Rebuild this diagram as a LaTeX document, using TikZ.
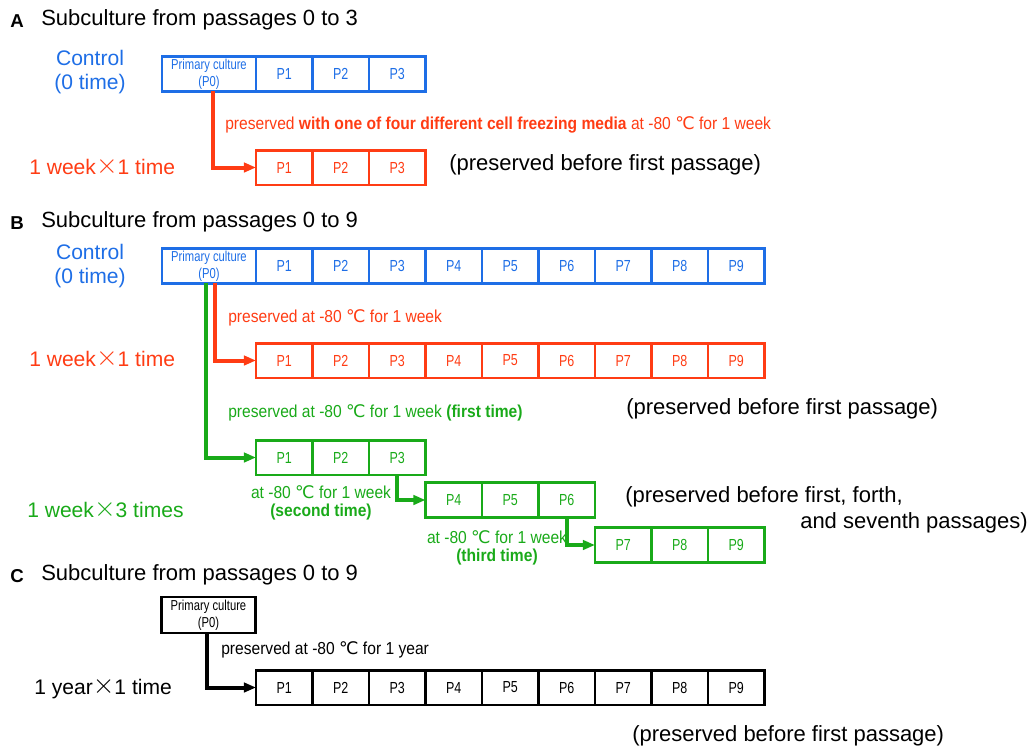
\documentclass[tikz,border=0pt]{standalone}
\usepackage{fontspec}
\setmainfont{Liberation Sans}
\newfontfamily\nfont{Liberation Sans}[FakeStretch=0.9]
\newfontfamily\cfont{Liberation Sans}[FakeStretch=0.78]
\newfontfamily\symfont{DejaVu Sans}
\usepackage{tikz}
\usetikzlibrary{arrows.meta, positioning, calc}

\definecolor{cblue}{RGB}{30,110,230}
\definecolor{cred}{RGB}{255,60,20}
\definecolor{cgreen}{RGB}{25,170,25}
\newcommand{\degC}{{\symfont ℃}}
\newcommand{\tms}{\raisebox{0.5pt}{\scalebox{1.45}{$\times$}}}

\begin{document}
\begin{tikzpicture}[
    x=0.75pt, y=-0.75pt,
    cell/.style={draw, line width=2.2pt, minimum width=42.4pt, minimum height=26.2pt,
                 inner sep=0pt, outer sep=0pt, font=\cfont\fontsize{12}{12}\selectfont},
    pcell/.style={cell, minimum width=70.5pt, align=center,
                  font=\cfont\fontsize{10.8}{12.5}\selectfont},
    panel/.style={inner sep=0pt, font=\fontsize{14}{14}\selectfont\bfseries},
    big/.style={anchor=west, inner sep=0pt, font=\fontsize{16.5}{18}\selectfont},
    side/.style={inner sep=0pt, align=center, font=\fontsize{15.8}{18}\selectfont},
    lab/.style={anchor=west, inner sep=0pt, font=\nfont\fontsize{13}{14}\selectfont},
    arr/.style={line width=3pt, -{Triangle[length=9pt, width=7pt]}}
]
\useasboundingbox (0,0) rectangle (1032,747);

% ---- A ----
\node[panel] (panA) at (17,21) {A};
\node[big]   (titA) at (41,20) {Subculture from passages 0 to 3};
\node[side, cblue] (ctlA) at (90,72) {Control\\(0 time)};
\node[pcell, cblue] (aP0) at (209,74) {Primary culture\\(P0)};
\foreach \i in {1,...,3}
    \node[cell, cblue] (aP\i) at ({256+56.5*(\i-0.5)},74) {P\i};
\foreach \i in {1,...,3}
    \node[cell, cred] (rA\i) at ({256+56.5*(\i-0.5)},167.5) {P\i};
\node[side, cred, anchor=west] (wkA) at (29,167) {1 week\tms 1 time};
\node[big] (noteA) at (449,165) {(preserved before first passage)};
\draw[arr, cred] ([xshift=3pt]aP0.south) |- (rA1.west);
\node[lab, cred] (labA) at (225,125)
    {preserved \textbf{with one of four different cell freezing media} at -80 \degC{} for 1 week};

% ---- B ----
\node[panel] (panB) at (17,223) {B};
\node[big]   (titB) at (41,222) {Subculture from passages 0 to 9};
\node[side, cblue] (ctlB) at (90,266) {Control\\(0 time)};
\node[pcell, cblue] (bP0) at (209,266) {Primary culture\\(P0)};
\foreach \i in {1,...,9}
    \node[cell, cblue] (bP\i) at ({256+56.5*(\i-0.5)},266) {P\i};
\foreach \i in {1,...,9}
    \node[cell, cred] (rB\i) at ({256+56.5*(\i-0.5)},360.5) {P\i};
\node[side, cred, anchor=west] (wkB) at (29,359) {1 week\tms 1 time};
\node[big] (noteB) at (626,409) {(preserved before first passage)};
\draw[arr, cred] ([xshift=4.5pt]bP0.south) |- (rB1.west);
\node[lab, cred] (labB) at (228,318) {preserved at -80 \degC{} for 1 week};

% green, three times
\foreach \i in {1,...,3}
    \node[cell, cgreen] (gP\i) at ({256+56.5*(\i-0.5)},457.5) {P\i};
\foreach \i in {4,...,6}
    \node[cell, cgreen] (gP\i) at ({256+56.5*(\i-0.5)},500) {P\i};
\foreach \i in {7,...,9}
    \node[cell, cgreen] (gP\i) at ({256+56.5*(\i-0.5)},545) {P\i};
\draw[arr, cgreen] ([xshift=-2.2pt]bP0.south) |- (gP1.west);
\draw[arr, cgreen] (gP3.south) |- (gP4.west);
\draw[arr, cgreen] (gP6.south) |- (gP7.west);
\node[lab, cgreen] (labG1) at (228,413) {preserved at -80 \degC{} for 1 week \textbf{(first time)}};
\node[lab, cgreen, anchor=center, align=center] (labG2) at (321,503)
    {at -80 \degC{} for 1 week\\\textbf{(second time)}};
\node[lab, cgreen, anchor=center, align=center] (labG3) at (497,548)
    {at -80 \degC{} for 1 week\\\textbf{(third time)}};
\node[side, cgreen, anchor=west] (wkG) at (27,510) {1 week\tms 3 times};
\node[big] (noteG1) at (625,497) {(preserved before first, forth,};
\node[big] (noteG2) at (800,523) {and seventh passages)};

% ---- C ----
\node[panel] (panC) at (17,576) {C};
\node[big]   (titC) at (41,575) {Subculture from passages 0 to 9};
\node[pcell, minimum height=27pt] (cP0) at (208.5,615) {Primary culture\\(P0)};
\foreach \i in {1,...,9}
    \node[cell] (cP\i) at ({256+56.5*(\i-0.5)},687.5) {P\i};
\draw[arr] ([xshift=-1pt]cP0.south) |- (cP1.west);
\node[lab] (labC) at (221,650) {preserved at -80 \degC{} for 1 year};
\node[side, anchor=west] (yrC) at (34,688) {1 year\tms 1 time};
\node[big] (noteC) at (632,736) {(preserved before first passage)};
\end{tikzpicture}
\end{document}
